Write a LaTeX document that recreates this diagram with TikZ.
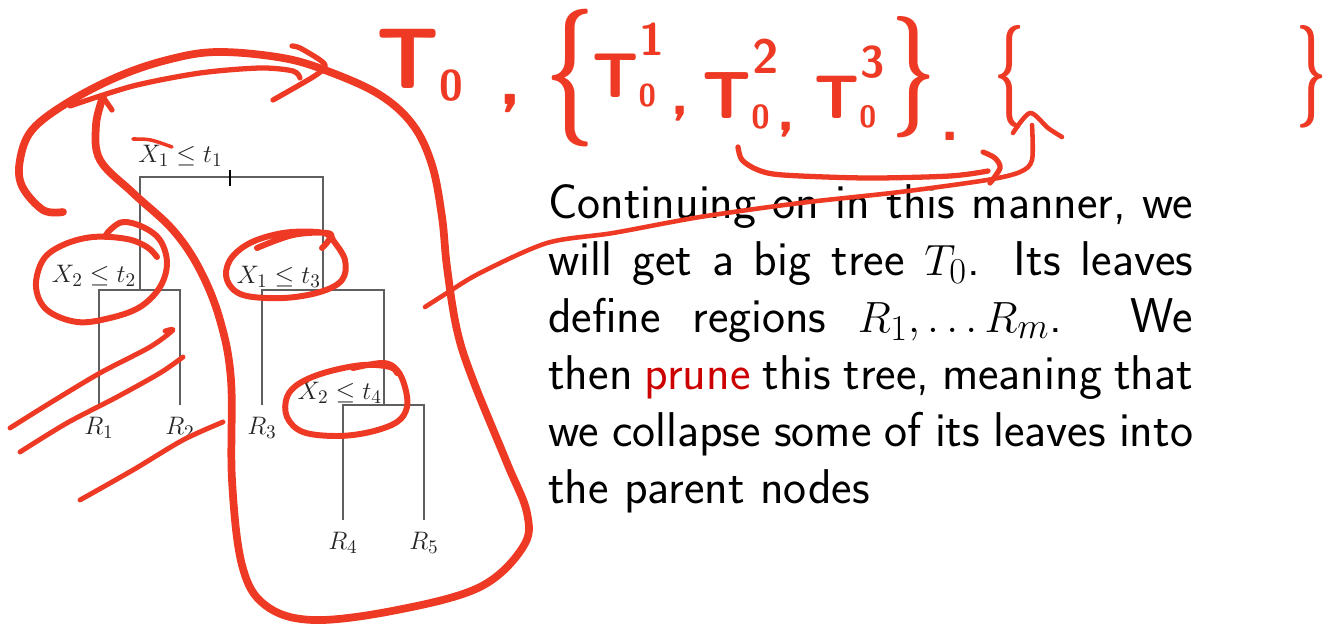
\documentclass[tikz,border=0pt]{standalone}
\usepackage{amsmath,amssymb}
\usepackage{tikz}
\usetikzlibrary{positioning}
\usepackage{xcolor}
\definecolor{inkred}{RGB}{238,58,36}
\definecolor{prunered}{RGB}{204,0,0}
\definecolor{treegray}{RGB}{95,95,95}
% handwritten T with subscript 0 (and an optional raised index)
\newcommand{\inksub}{\raisebox{-0.15em}{\scalebox{0.5}{0}}}
\newcommand{\inkT}[1]{T\makebox[0pt][l]{\inksub}\kern0.02em\raisebox{0.66em}{\scalebox{0.72}{#1}}}
\newcommand{\inkbrace}[2]{\scalebox{1}[#1]{#2}}

\begin{document}
\begin{tikzpicture}[x=0.02cm, y=-0.02cm,
    branch/.style={draw=treegray, line width=0.8pt},
    splitlab/.style={inner sep=0pt, text=black!85, font=\fontsize{15}{17}\selectfont},
    leaflab/.style={inner sep=0pt, text=black!85, font=\fontsize{15}{17}\selectfont},
    ink/.style={draw=inkred, line width=3.4pt, line cap=round, line join=round},
    inktext/.style={inner sep=0pt, anchor=base west, text=inkred}]
    \useasboundingbox (0,0) rectangle (1332,629);
    % Tree
    \coordinate (s1) at (230,177);
    \coordinate (s2) at (140,290);
    \coordinate (s3) at (323,290);
    \coordinate (s4) at (384,405);
    \coordinate (r1) at (99,405);
    \coordinate (r2) at (180,405);
    \coordinate (r3) at (262,405);
    \coordinate (r4) at (343,520);
    \coordinate (r5) at (424,520);
    \draw[branch] (s1) -| (s2);
    \draw[branch] (s1) -| (s3);
    \draw[branch] (s2) -| (r1);
    \draw[branch] (s2) -| (r2);
    \draw[branch] (s3) -| (r3);
    \draw[branch] (s3) -| (s4);
    \draw[branch] (s4) -| (r4);
    \draw[branch] (s4) -| (r5);
    \draw[line width=1.1pt] ([yshift=4pt]s1) -- ([yshift=-5pt]s1);
    \node[splitlab, anchor=base east] (l1) at ([xshift=-4pt, yshift=8pt]s1) {$X_1\leq t_1$};
    \node[splitlab, anchor=base east] (l2) at ([xshift=-2pt, yshift=4pt]s2) {$X_2\leq t_2$};
    \node[splitlab, anchor=base east] (l3) at ([xshift=-1pt, yshift=3.5pt]s3) {$X_1\leq t_3$};
    \node[splitlab, anchor=base east] (l4) at ([xshift=-1pt, yshift=3pt]s4) {$X_2\leq t_4$};
    \foreach \k in {1,...,5} {
      \node[leaflab, below=7pt of r\k] (R\k) {$R_\k$};
    }
    % Text
    \node[inner sep=0pt, anchor=base west, font=\fontsize{27.8}{32.5}\selectfont\sffamily] (para) at (548,218)
      {\parbox[t]{367pt}{Continuing on in this manner, we\linebreak
       will get a big tree $T_0$. Its leaves\linebreak
       define regions $R_1,\ldots R_m$. We\linebreak
       then \textcolor{prunered}{prune} this tree, meaning that\linebreak
       we collapse some of its leaves into\linebreak
       the parent nodes}};
    % Handwriting
    \node[inktext, font=\fontsize{49}{49}\selectfont\sffamily\bfseries] (h0) at (376,88) {T\inksub};
    \node[inktext, font=\fontsize{44}{44}\selectfont\sffamily\bfseries] (c0) at (498,104) {,};
    \node[inktext, font=\fontsize{49}{49}\selectfont\sffamily\bfseries] (b0) at (545,112) {\inkbrace{1.6}{\{}};
    \node[inktext, font=\fontsize{36}{36}\selectfont\sffamily\bfseries] (h1) at (592,97) {\inkT{1}};
    \node[inktext, font=\fontsize{36}{36}\selectfont\sffamily\bfseries] (c1) at (670,114) {,};
    \node[inktext, font=\fontsize{38}{38}\selectfont\sffamily\bfseries] (h2) at (702,118) {\inkT{2}};
    \node[inktext, font=\fontsize{36}{36}\selectfont\sffamily\bfseries] (c2) at (776,130) {,};
    \node[inktext, font=\fontsize{35}{35}\selectfont\sffamily\bfseries] (h3) at (814,118) {\inkT{3}};
    \node[inktext, font=\fontsize{44}{44}\selectfont\sffamily\bfseries] (b1) at (891,107) {\inkbrace{1.57}{\}}};
    \node[inktext, font=\fontsize{36}{36}\selectfont\sffamily\bfseries] (d1) at (940,140) {.};
    \node[inktext, font=\fontsize{30}{30}\selectfont\sffamily\bfseries] (b2) at (994,102) {\inkbrace{1.95}{\{}};
    \node[inktext, font=\fontsize{30}{30}\selectfont\sffamily\bfseries] (b3) at (1296,102) {\inkbrace{1.95}{\}}};
    % Loop round the subtree
    \draw[ink, line width=4.4pt] plot[smooth, tension=0.6] coordinates {(63,212) (43,210) (22,186) (20,160) (32,130)
      (67,103) (117,77) (167,60) (217,52) (283,58) (330,72) (380,95) (413,125) (432,165) (442,217) (447,267)
      (457,330) (473,380) (507,463) (527,513) (523,547) (480,587) (397,610) (313,620) (265,605) (242,565)
      (232,480) (231,380) (220,320) (200,270) (173,230) (133,193) (100,160) (96,125) (103,97)};
    \draw[ink, line width=3pt] (103,97) -- (112,110);
    % Arrow to T0
    \draw[ink, line width=3pt] plot[smooth] coordinates {(70,106) (133,86) (200,73) (260,68) (293,71) (300,78)};
    \draw[ink, line width=3pt] plot[smooth] coordinates {(292,46) (300,48) (320,60) (325,67) (313,77) (273,100)};
    \draw[ink, line width=2pt] (133,139) .. controls (150,139) .. (172,147);
    % Circles
    \draw[ink] plot[smooth, tension=0.6] coordinates {(157,257) (147,247) (127,239) (93,237) (63,245) (43,260)
      (36,287) (47,310) (77,322) (110,318) (140,307) (160,287) (167,263) (160,240) (143,227) (123,222) (110,230) (105,237)};
    \draw[ink] plot[smooth, tension=0.6] coordinates {(257,248) (293,235) (327,233) (333,240) (345,260) (342,280)
      (320,292) (283,298) (243,295) (227,280) (230,260) (250,243) (283,233) (317,232) (330,237) (322,248)};
    \draw[ink] plot[smooth, tension=0.6] coordinates {(353,368) (383,363) (397,370) (405,387) (407,407) (397,422)
      (370,432) (337,436) (303,432) (287,417) (287,397) (300,383) (327,372) (363,365) (390,367) (397,373)};
    % Slashes
    \draw[ink, line width=2.8pt] plot[smooth] coordinates {(10,428) (50,403) (100,373) (150,347) (173,330) (165,331)};
    \draw[ink, line width=2.8pt] plot[smooth] coordinates {(20,452) (67,423) (117,397) (160,373) (183,357)};
    \draw[ink, line width=2.8pt] plot[smooth] coordinates {(80,500) (133,470) (183,440) (223,422)};
    % Arrows to the brace
    \draw[ink, line width=3pt] plot[smooth] coordinates {(738,147) (742,160) (758,170) (783,175) (867,178) (950,176) (988,171)};
    \draw[ink, line width=3pt] plot[smooth] coordinates {(983,152) (995,158) (1000,168) (990,183)};
    \draw[ink, line width=2.6pt] plot[smooth] coordinates {(425,307) (447,293) (480,273) (547,243) (613,233) (700,217)
      (800,203) (900,192) (987,180) (1020,172) (1032,160) (1032,125)};
    \draw[ink, line width=2.6pt] plot[smooth] coordinates {(1013,133) (1030,113) (1048,128) (1062,137)};
\end{tikzpicture}
\end{document}
